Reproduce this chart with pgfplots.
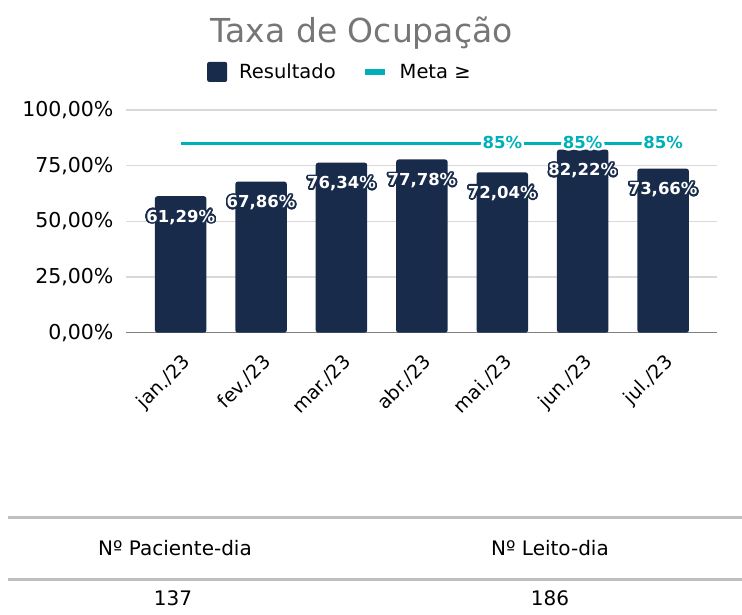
\documentclass[border=0pt]{standalone}
\usepackage{pgfplots}
\pgfplotsset{compat=1.18}
\usepackage{fontspec}
\setmainfont{DejaVu Sans}
\usepackage{contour}
\contourlength{1.6pt}
\contournumber{32}
\definecolor{barblue}{RGB}{24,43,74}
\definecolor{metateal}{RGB}{0,176,185}
\definecolor{titlegray}{RGB}{118,118,118}
\definecolor{gridgray}{RGB}{217,217,217}
\definecolor{axisgray}{RGB}{128,128,128}
\definecolor{tablegray}{RGB}{191,191,191}
\begin{document}
\begin{tikzpicture}[x=1pt,y=1pt]
\path[use as bounding box] (0pt,0pt) rectangle (742pt,614pt);
\begin{axis}[
  at={(126pt,281.3pt)}, anchor=south west,
  scale only axis, width=591pt, height=222.7pt,
  xmin=-0.68, xmax=6.67, ymin=0, ymax=100,
  clip=false,
  separate axis lines,
  axis x line*=bottom, axis y line*=left,
  x axis line style={draw=axisgray, line width=1.3pt, -},
  y axis line style={draw=none},
  major tick length=0pt,
  ytick={0,25,50,75,100},
  yticklabels={{0,00\%},{25,00\%},{50,00\%},{75,00\%},{100,00\%}},
  ymajorgrids, grid style={gridgray, line width=1.2pt},
  xtick={0,1,2,3,4,5,6},
  xticklabels={jan./23,fev./23,mar./23,abr./23,mai./23,jun./23,jul./23},
  x tick label style={rotate=45, anchor=north east, font=\fontsize{19}{22}\selectfont, xshift=-10.7pt, yshift=-11.1pt},
  y tick label style={font=\fontsize{20.5}{24}\selectfont, xshift=-9pt},
  title={Taxa de Ocupação},
  title style={at={(0.399,1.32)}, anchor=center, font=\fontsize{33}{40}\selectfont, text=titlegray},
  legend columns=-1,
  legend style={at={(0.137,1.171)}, anchor=west, draw=none, fill=none, inner sep=0pt,
    font=\fontsize{19.5}{23}\selectfont,
    /tikz/every odd column/.append style={column sep=10pt},
    /tikz/every even column/.append style={column sep=24pt}},
]
\addplot[ybar, bar width=51.5pt, fill=barblue, draw=none, rounded corners=2.5pt,
  point meta=explicit symbolic,
  nodes near coords={\contourlength{1.6pt}\contour{barblue}{\pgfplotspointmeta}},
  every node near coord/.append style={anchor=center, yshift=-22pt, text=white, font=\bfseries\fontsize{16.5}{19}\selectfont},
  legend image code/.code={\fill[barblue, rounded corners=2pt] (0pt,-10pt) rectangle (20pt,10pt);}]
  coordinates {(0,61.29)[61,29\%] (1,67.86)[67,86\%] (2,76.34)[76,34\%] (3,77.78)[77,78\%] (4,72.04)[72,04\%] (5,82.22)[82,22\%] (6,73.66)[73,66\%]};
\addlegendentry{Resultado}
\addplot[metateal, line width=3.3pt, mark=none,
  point meta=explicit symbolic,
  nodes near coords={\contourlength{2.6pt}\contour{white}{\pgfplotspointmeta}},
  every node near coord/.append style={anchor=center, text=metateal, font=\bfseries\fontsize{16.5}{19}\selectfont},
  legend image code/.code={\draw[metateal, line width=6pt] (0pt,0pt) -- (20pt,0pt);}]
  coordinates {(0,85)[] (1,85)[] (2,85)[] (3,85)[] (4,85)[85\%] (5,85)[85\%] (6,85)[85\%]};
\addlegendentry{Meta ≥}
\end{axis}
\draw[tablegray, line width=3pt] (8pt,97pt) -- (742pt,97pt);
\draw[tablegray, line width=3pt] (8pt,35pt) -- (742pt,35pt);
\node[font=\fontsize{20}{24}\selectfont] at (175pt,66pt) {Nº Paciente-dia};
\node[font=\fontsize{20}{24}\selectfont] at (550pt,66pt) {Nº Leito-dia};
\node[font=\fontsize{20}{24}\selectfont] at (173pt,16pt) {137};
\node[font=\fontsize{20}{24}\selectfont] at (550pt,16pt) {186};
\end{tikzpicture}
\end{document}
